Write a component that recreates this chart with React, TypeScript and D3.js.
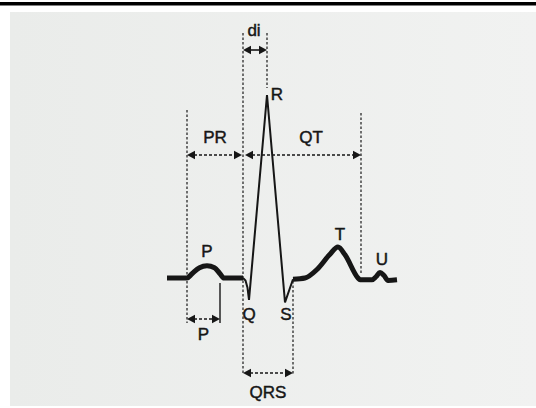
import * as d3 from "d3";

// ECG trace, time in ms and amplitude in mV
const leadT = [0, 80, 100, 130, 160, 190, 212, 228, 304];
const leadMv = [0, 0, 0.035, 0.085, 0.1, 0.085, 0.035, 0, 0];
const qrsT = [304, 314, 322, 328, 400, 472, 504];
const qrsMv = [0, -0.02, -0.08, -0.18, 1.5, -0.2, -0.01];
const stT = [504, 552, 600, 650, 684, 712, 764, 772, 820, 836, 852, 868, 884, 920];
const stMv = [-0.01, 0, 0.07, 0.19, 0.254, 0.19, 0, -0.015, -0.015, 0.01, 0.045, 0.02, -0.02, -0.015];

// interval boundaries (ms)
const pStart = 80;
const pEnd = 212;
const qrsStart = 304;
const rPeak = 400;
const qrsEnd = 504;
const qtEnd = 776;

const waveLabels = ["P", "Q", "R", "S", "T", "U"];
const waveLabelT = [160, 328, 400, 472, 684, 852];
const intervalLabels = ["di", "PR", "QT", "P", "QRS"];

const W = 536;
const H = 408;

const x = d3.scaleLinear().domain([0, 920]).range([167, 397]);
const y = d3.scaleLinear().domain([0, 1.5]).range([278, 95]);

const line = (t: number[], v: number[], curve: d3.CurveFactory) =>
  d3
    .line<number>()
    .x((d) => x(d))
    .y((_, i) => y(v[i]))
    .curve(curve)(t) as string;

const INK = "#161616";
const FONT = "'Liberation Sans', Arial, Helvetica, sans-serif";

function Arrow({ x1, x2, yy, dashed = true }: { x1: number; x2: number; yy: number; dashed?: boolean }) {
  const L = 8;
  const h = 4.3;
  return (
    <g>
      <line
        x1={x1 + L - 1}
        x2={x2 - L + 1}
        y1={yy}
        y2={yy}
        stroke={INK}
        strokeWidth={1.6}
        strokeDasharray={dashed ? "3,2" : undefined}
      />
      <path d={`M${x1},${yy} L${x1 + L},${yy - h} L${x1 + L},${yy + h} Z`} fill={INK} />
      <path d={`M${x2},${yy} L${x2 - L},${yy - h} L${x2 - L},${yy + h} Z`} fill={INK} />
    </g>
  );
}

function VDash({ xx, y1, y2 }: { xx: number; y1: number; y2: number }) {
  return <line x1={xx} x2={xx} y1={y1} y2={y2} stroke="#2a2a2a" strokeWidth={1.3} strokeDasharray="2.5,2" />;
}

export default function App() {
  const labelDx: Record<string, [number, number]> = {
    P: [0, 257],
    Q: [0, 320],
    R: [10, 100],
    S: [1, 320],
    T: [2, 240],
    U: [2, 265],
  };
  const intervalPos: Record<string, [number, number]> = {
    di: [(x(qrsStart) + x(rPeak)) / 2 - 1, 36],
    PR: [(x(pStart) + x(qrsStart)) / 2, 143],
    QT: [(x(qrsStart) + x(qtEnd)) / 2 + 9, 143],
    P: [(x(pStart) + x(pEnd)) / 2, 340],
    QRS: [(x(qrsStart) + x(qrsEnd)) / 2, 398],
  };
  return (
    <div style={{ position: "fixed", left: 0, top: 0 }}>
      <svg width={W} height={H} style={{ display: "block" }}>
        <defs>
          <linearGradient id="paper" x1="0" x2="1" y1="0" y2="0">
            <stop offset="0" stopColor="#eaecea" />
            <stop offset="1" stopColor="#f1f2f1" />
          </linearGradient>
        </defs>
        <rect x={0} y={0} width={W} height={H} fill="#ffffff" />
        <rect x={0} y={2} width={W} height={3.5} fill="#000000" />
        <rect x={10} y={12} width={W - 10} height={394} fill="url(#paper)" />

        {/* dashed boundaries */}
        <VDash xx={x(pStart)} y1={110} y2={323} />
        <VDash xx={x(qrsStart)} y1={33} y2={374} />
        <VDash xx={x(rPeak)} y1={33} y2={88} />
        <VDash xx={x(qtEnd)} y1={113} y2={273} />
        <VDash xx={x(qrsEnd)} y1={281} y2={374} />
        <line x1={x(pEnd)} x2={x(pEnd)} y1={283} y2={323} stroke={INK} strokeWidth={1.4} />

        {/* arrows */}
        <Arrow x1={x(qrsStart)} x2={x(rPeak)} yy={50} dashed={false} />
        <Arrow x1={x(pStart)} x2={x(qrsStart) - 1} yy={155} />
        <Arrow x1={x(qrsStart) + 2} x2={x(qtEnd)} yy={155} />
        <Arrow x1={x(pStart)} x2={x(pEnd)} yy={319} />
        <Arrow x1={x(qrsStart)} x2={x(qrsEnd)} yy={373} />

        {/* trace */}
        <path d={line(leadT, leadMv, d3.curveMonotoneX)} fill="none" stroke={INK} strokeWidth={5} strokeLinejoin="round" />
        <path d={line(qrsT, qrsMv, d3.curveLinear)} fill="none" stroke={INK} strokeWidth={2} strokeLinejoin="miter" />
        <path d={line(stT, stMv, d3.curveMonotoneX)} fill="none" stroke={INK} strokeWidth={5} strokeLinejoin="round" />

        {/* labels */}
        <g fontFamily={FONT} fontSize={17} fill={INK} stroke={INK} strokeWidth={0.45} textAnchor="middle">
          {waveLabels.map((l, i) => (
            <text key={l} x={x(waveLabelT[i]) + labelDx[l][0]} y={labelDx[l][1]}>
              {l}
            </text>
          ))}
          {intervalLabels.map((l) => (
            <text key={"i" + l} x={intervalPos[l][0]} y={intervalPos[l][1]}>
              {l}
            </text>
          ))}
        </g>
      </svg>
    </div>
  );
}
